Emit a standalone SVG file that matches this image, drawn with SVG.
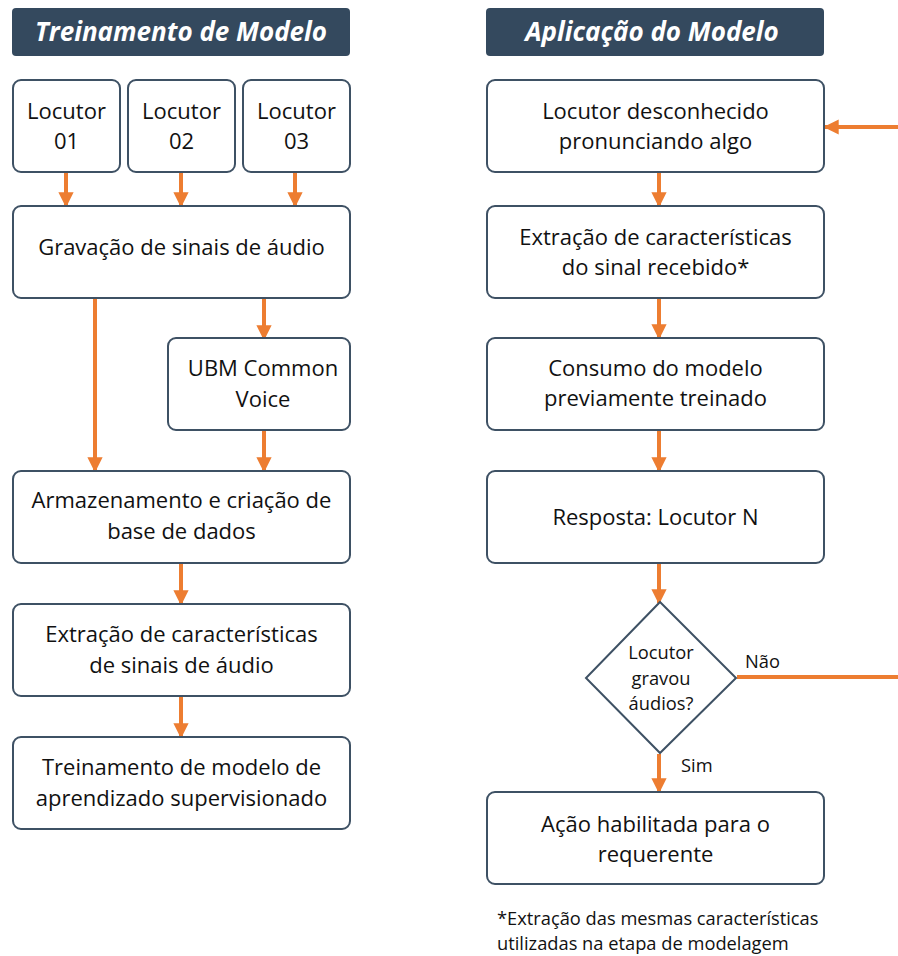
<svg xmlns="http://www.w3.org/2000/svg" width="898" height="956" viewBox="0 0 898 956">
<defs>
<style>
.title{fill:#34495e}
.tt{font-family:"Open Sans",sans-serif;font-weight:bold;font-style:italic;font-size:26px;fill:#fff;text-anchor:middle}
.box{fill:#fff;stroke:#3e5164;stroke-width:2}
.t{font-family:"Open Sans",sans-serif;font-size:22px;fill:#111;text-anchor:middle}
.s{font-family:"Open Sans",sans-serif;font-size:18.3px;fill:#111}
.c{stroke:#ED7D31;stroke-width:4;fill:none}
</style>
<marker id="ah" viewBox="0 0 10 10" refX="9" refY="5" markerWidth="3.8" markerHeight="3.8" orient="auto" markerUnits="strokeWidth">
<path d="M0,0 L10,5 L0,10 z" fill="#ED7D31"/>
</marker>
</defs>
<rect width="898" height="956" fill="#fff"/>

<g id="title-treinamento"><rect class="title" x="12" y="8" width="338" height="48" rx="4"/><text class="tt" x="181" y="41">Treinamento de Modelo</text></g>
<g id="title-aplicacao"><rect class="title" x="486" y="8" width="338" height="48" rx="4"/><text class="tt" x="652" y="41">Aplicação do Modelo</text></g>

<g id="connectors">
<line class="c" x1="66" y1="173" x2="66" y2="206" marker-end="url(#ah)"/>
<line class="c" x1="181" y1="173" x2="181" y2="206" marker-end="url(#ah)"/>
<line class="c" x1="295" y1="173" x2="295" y2="206" marker-end="url(#ah)"/>
<line class="c" x1="95" y1="299" x2="95" y2="471" marker-end="url(#ah)"/>
<line class="c" x1="264" y1="299" x2="264" y2="339" marker-end="url(#ah)"/>
<line class="c" x1="264" y1="431" x2="264" y2="471" marker-end="url(#ah)"/>
<line class="c" x1="181" y1="564" x2="181" y2="604" marker-end="url(#ah)"/>
<line class="c" x1="181" y1="697" x2="181" y2="737" marker-end="url(#ah)"/>
<line class="c" x1="898" y1="127" x2="825" y2="127" marker-end="url(#ah)"/>
<line class="c" x1="659" y1="173" x2="659" y2="206" marker-end="url(#ah)"/>
<line class="c" x1="659" y1="299" x2="659" y2="338" marker-end="url(#ah)"/>
<line class="c" x1="659" y1="431" x2="659" y2="471" marker-end="url(#ah)"/>
<line class="c" x1="659" y1="564" x2="659" y2="603" marker-end="url(#ah)"/>
<line class="c" x1="737" y1="677" x2="898" y2="677"/>
<line class="c" x1="659" y1="754" x2="659" y2="792" marker-end="url(#ah)"/>
<text class="s" x="745" y="668">Não</text>
<text class="s" x="681" y="772">Sim</text>
</g>

<g id="locutor01"><rect class="box" x="13" y="80" width="107" height="92" rx="8"/><text class="t" x="66.5" y="119">Locutor</text><text class="t" x="66.5" y="149">01</text></g>
<g id="locutor02"><rect class="box" x="128" y="80" width="107" height="92" rx="8"/><text class="t" x="181.5" y="119">Locutor</text><text class="t" x="181.5" y="149">02</text></g>
<g id="locutor03"><rect class="box" x="243" y="80" width="107" height="92" rx="8"/><text class="t" x="296.5" y="119">Locutor</text><text class="t" x="296.5" y="149">03</text></g>
<g id="gravacao"><rect class="box" x="13" y="206" width="337" height="92" rx="8"/><text class="t" x="181.5" y="255">Gravação de sinais de áudio</text></g>
<g id="ubm"><rect class="box" x="168" y="338" width="182" height="92" rx="8"/><text class="t" x="263" y="376">UBM Common</text><text class="t" x="263" y="407">Voice</text></g>
<g id="armazenamento"><rect class="box" x="13" y="471" width="337" height="92" rx="8"/><text class="t" x="181.5" y="508">Armazenamento e criação de</text><text class="t" x="181.5" y="539">base de dados</text></g>
<g id="extracao1"><rect class="box" x="13" y="604" width="337" height="92" rx="8"/><text class="t" x="181.5" y="642">Extração de características</text><text class="t" x="181.5" y="673">de sinais de áudio</text></g>
<g id="treinamento"><rect class="box" x="13" y="737" width="337" height="92" rx="8"/><text class="t" x="181.5" y="775">Treinamento de modelo de</text><text class="t" x="181.5" y="806">aprendizado supervisionado</text></g>

<g id="desconhecido"><rect class="box" x="487" y="80" width="337" height="92" rx="8"/><text class="t" x="655.5" y="119">Locutor desconhecido</text><text class="t" x="655.5" y="149">pronunciando algo</text></g>
<g id="extracao2"><rect class="box" x="487" y="206" width="337" height="92" rx="8"/><text class="t" x="655.5" y="245">Extração de características</text><text class="t" x="655.5" y="275">do sinal recebido*</text></g>
<g id="consumo"><rect class="box" x="487" y="338" width="337" height="92" rx="8"/><text class="t" x="655.5" y="376">Consumo do modelo</text><text class="t" x="655.5" y="406">previamente treinado</text></g>
<g id="resposta"><rect class="box" x="487" y="471" width="337" height="92" rx="8"/><text class="t" x="655.5" y="525">Resposta: Locutor N</text></g>
<g id="decisao"><polygon class="box" points="660,602 736,678 660,753 586,678"/>
<text class="s" x="661" y="659" text-anchor="middle">Locutor</text><text class="s" x="661" y="685" text-anchor="middle">gravou</text><text class="s" x="661" y="710" text-anchor="middle">áudios?</text></g>
<g id="acao"><rect class="box" x="487" y="792" width="337" height="92" rx="8"/><text class="t" x="655.5" y="832">Ação habilitada para o</text><text class="t" x="655.5" y="862">requerente</text></g>
<g id="nota"><text class="s" x="497" y="925">*Extração das mesmas características</text><text class="s" x="497" y="950">utilizadas na etapa de modelagem</text></g>
</svg>
